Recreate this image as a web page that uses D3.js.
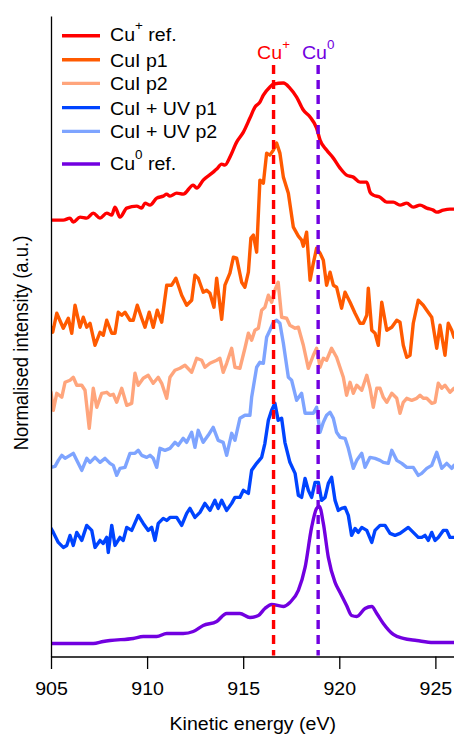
<!DOCTYPE html>
<html><head><meta charset="utf-8">
<script src="https://cdn.jsdelivr.net/npm/d3@7"></script>
<style>body{margin:0;background:#fff}svg{display:block}text{font-family:"Liberation Sans",Arial,Helvetica,sans-serif;fill:#000}</style>
</head><body><svg id="c" width="454" height="735"></svg>
<script>
// ---------- data (energy in eV, normalised intensity in a.u., stacked offsets included) ----------
const xTicks = [905, 910, 915, 920, 925];
const xLabel = "Kinetic energy (eV)";
const yLabel = "Normalised intensity (a.u.)";

const cuPlusRef = [[905.0,4.36],[905.64,4.36],[905.99,4.38],[906.16,4.34],[906.51,4.39],[906.86,4.38],[907.2,4.43],[907.55,4.38],[907.9,4.43],[908.16,4.41],[908.33,4.49],[908.59,4.39],[908.94,4.48],[909.46,4.5],[909.72,4.48],[909.89,4.53],[910.15,4.51],[910.5,4.58],[910.84,4.6],[911.02,4.62],[911.19,4.6],[911.54,4.63],[911.88,4.62],[912.4,4.71],[912.58,4.68],[912.92,4.76],[913.44,4.84],[913.62,4.87],[913.88,4.92],[914.05,4.91],[914.31,4.99],[914.66,5.14],[915.01,5.24],[915.35,5.38],[915.61,5.49],[915.87,5.54],[916.05,5.61],[916.39,5.69],[916.57,5.72],[917.09,5.73],[917.43,5.68],[917.78,5.59],[918.13,5.46],[918.48,5.39],[918.82,5.28],[919.0,5.16],[919.34,5.06],[919.69,4.98],[920.04,4.88],[920.38,4.81],[920.73,4.79],[921.08,4.74],[921.43,4.74],[921.6,4.64],[921.77,4.61],[922.12,4.59],[922.47,4.54],[922.81,4.54],[923.16,4.51],[923.51,4.53],[923.85,4.49],[924.2,4.51],[924.55,4.48],[924.89,4.46],[925.07,4.44],[925.41,4.46],[925.76,4.47],[925.97,4.47]];

const cuiP1 = [[905.0,3.29],[905.09,3.24],[905.3,3.43],[905.64,3.28],[905.9,3.38],[906.08,3.23],[906.25,3.51],[906.51,3.29],[906.68,3.39],[906.86,3.29],[907.03,3.33],[907.29,3.11],[907.55,3.24],[907.72,3.21],[907.9,3.36],[908.16,3.23],[908.33,3.23],[908.5,3.44],[908.68,3.41],[908.85,3.44],[909.11,3.36],[909.28,3.36],[909.49,3.51],[909.72,3.38],[909.89,3.29],[910.11,3.44],[910.32,3.29],[910.53,3.46],[910.76,3.34],[911.02,3.71],[911.28,3.71],[911.5,3.78],[911.8,3.61],[912.06,3.51],[912.32,3.56],[912.49,3.81],[912.66,3.78],[912.92,3.64],[913.1,3.66],[913.27,3.63],[913.48,3.49],[913.62,3.78],[913.88,3.37],[914.05,3.71],[914.31,3.83],[914.49,3.99],[914.66,3.98],[914.92,3.74],[915.09,3.69],[915.27,3.84],[915.4,4.18],[915.53,4.21],[915.7,4.04],[915.87,4.76],[916.05,4.73],[916.22,5.03],[916.39,5.01],[916.57,5.06],[916.74,5.13],[916.91,5.03],[917.09,4.79],[917.35,4.63],[917.61,4.29],[917.87,4.2],[918.04,4.16],[918.13,4.1],[918.3,4.24],[918.48,3.76],[918.65,3.93],[918.82,4.08],[919.0,4.03],[919.17,3.96],[919.34,3.71],[919.52,3.84],[919.69,3.71],[919.86,3.69],[920.12,3.48],[920.3,3.64],[920.56,3.54],[920.82,3.43],[921.08,3.33],[921.25,3.33],[921.43,3.41],[921.51,3.68],[921.69,3.26],[921.86,3.23],[922.03,3.11],[922.21,3.54],[922.47,3.26],[922.73,3.29],[922.99,3.36],[923.16,3.34],[923.33,3.11],[923.51,2.99],[923.68,3.01],[923.85,3.33],[924.11,3.56],[924.37,3.51],[924.55,3.46],[924.81,3.39],[925.07,3.08],[925.24,3.31],[925.5,3.01],[925.67,3.33],[925.85,3.26],[925.97,3.19]];

const cuiP2 = [[905.0,2.64],[905.12,2.46],[905.3,2.63],[905.56,2.59],[905.73,2.74],[905.99,2.76],[906.16,2.79],[906.34,2.71],[906.6,2.71],[906.77,2.66],[906.99,2.28],[907.2,2.68],[907.38,2.49],[907.64,2.63],[907.9,2.64],[908.07,2.61],[908.24,2.62],[908.42,2.54],[908.68,2.68],[908.94,2.51],[909.2,2.53],[909.37,2.83],[909.54,2.71],[909.8,2.78],[910.06,2.81],[910.32,2.73],[910.58,2.79],[910.76,2.73],[911.02,2.58],[911.19,2.79],[911.45,2.86],[911.71,2.88],[911.97,2.91],[912.32,2.84],[912.58,2.98],[912.84,2.96],[913.01,2.89],[913.27,2.93],[913.62,2.96],[913.79,2.98],[913.96,2.84],[914.14,2.93],[914.4,3.08],[914.57,2.89],[914.83,2.88],[915.09,3.08],[915.27,3.23],[915.44,3.16],[915.61,3.26],[915.79,3.28],[915.96,3.46],[916.13,3.49],[916.31,3.61],[916.48,3.54],[916.65,3.66],[916.82,3.74],[917.0,3.39],[917.26,3.38],[917.43,3.31],[917.7,3.28],[917.87,3.29],[918.13,3.11],[918.39,2.88],[918.65,3.01],[918.82,3.08],[919.0,2.89],[919.17,2.98],[919.34,2.96],[919.6,3.08],[919.86,2.99],[920.21,2.79],[920.38,2.61],[920.56,2.74],[920.73,2.63],[920.91,2.71],[921.17,2.66],[921.43,2.81],[921.6,2.68],[921.77,2.49],[921.95,2.68],[922.12,2.68],[922.29,2.59],[922.47,2.54],[922.73,2.63],[922.99,2.58],[923.16,2.43],[923.33,2.54],[923.51,2.58],[923.77,2.56],[924.03,2.58],[924.2,2.61],[924.37,2.58],[924.55,2.58],[924.81,2.53],[924.98,2.54],[925.15,2.73],[925.33,2.68],[925.5,2.71],[925.76,2.64],[925.97,2.68]];

const cuiUvP1 = [[905.0,1.28],[905.12,1.24],[905.38,1.14],[905.64,1.09],[905.82,1.11],[905.99,1.21],[906.16,1.11],[906.34,1.24],[906.6,1.16],[906.86,1.31],[907.12,1.26],[907.29,1.09],[907.55,1.16],[907.72,1.13],[907.9,1.19],[907.98,1.04],[908.16,1.31],[908.33,1.11],[908.59,1.19],[908.76,1.16],[908.94,1.29],[909.2,1.26],[909.54,1.41],[909.8,1.33],[910.06,1.26],[910.24,1.29],[910.41,1.16],[910.58,1.33],[910.84,1.38],[911.02,1.36],[911.19,1.39],[911.54,1.39],[911.8,1.31],[912.06,1.43],[912.23,1.48],[912.49,1.39],[912.75,1.44],[913.01,1.53],[913.27,1.46],[913.53,1.56],[913.7,1.48],[913.88,1.56],[914.14,1.46],[914.4,1.53],[914.57,1.59],[914.83,1.59],[915.01,1.66],[915.27,1.63],[915.44,1.86],[915.7,1.93],[915.96,1.99],[916.13,2.13],[916.31,2.36],[916.48,2.46],[916.65,2.53],[916.82,2.36],[917.0,2.38],[917.17,2.14],[917.43,1.94],[917.7,1.83],[917.87,1.61],[918.04,1.59],[918.22,1.78],[918.39,1.66],[918.56,1.59],[918.74,1.74],[918.91,1.74],[919.08,1.56],[919.26,1.59],[919.43,1.73],[919.6,1.79],[919.78,1.56],[919.95,1.46],[920.12,1.48],[920.3,1.49],[920.47,1.41],[920.64,1.21],[920.82,1.28],[920.99,1.24],[921.17,1.29],[921.43,1.26],[921.69,1.14],[921.86,1.26],[922.12,1.31],[922.38,1.31],[922.64,1.23],[922.9,1.21],[923.16,1.23],[923.59,1.29],[923.85,1.24],[924.11,1.19],[924.29,1.19],[924.46,1.21],[924.63,1.16],[924.81,1.24],[924.98,1.16],[925.15,1.19],[925.41,1.26],[925.59,1.26],[925.76,1.19],[925.97,1.19]];

const cuiUvP2 = [[905.0,1.89],[905.21,1.9],[905.38,1.96],[905.56,2.01],[905.73,1.98],[905.99,2.01],[906.16,2.03],[906.34,1.96],[906.6,1.86],[906.86,1.98],[907.03,1.94],[907.29,1.99],[907.55,1.94],[907.81,1.98],[908.07,1.93],[908.24,1.91],[908.42,1.81],[908.59,1.88],[908.85,1.89],[909.11,2.03],[909.37,2.03],[909.54,2.06],[909.72,2.01],[909.98,1.99],[910.15,2.01],[910.32,1.98],[910.5,1.89],[910.67,2.08],[910.93,2.06],[911.19,2.08],[911.45,2.14],[911.62,2.11],[911.88,2.18],[912.06,2.14],[912.32,2.24],[912.49,2.09],[912.66,2.26],[912.92,2.14],[913.18,2.21],[913.44,2.29],[913.7,2.16],[913.96,2.14],[914.14,2.01],[914.4,2.23],[914.57,2.16],[914.83,2.38],[915.09,2.41],[915.35,2.41],[915.44,2.59],[915.7,2.89],[915.87,2.94],[916.05,2.93],[916.22,3.19],[916.39,3.26],[916.57,3.34],[916.74,3.36],[916.91,3.33],[917.09,3.13],[917.35,2.79],[917.52,2.76],[917.78,2.56],[918.04,2.63],[918.22,2.43],[918.39,2.43],[918.65,2.43],[918.82,2.49],[919.0,2.24],[919.17,2.34],[919.34,2.41],[919.52,2.44],[919.69,2.38],[919.86,2.24],[920.04,2.19],[920.3,2.18],[920.47,2.08],[920.73,1.88],[920.91,1.96],[921.17,2.03],[921.34,1.89],[921.6,1.99],[921.86,1.98],[922.12,1.96],[922.29,1.94],[922.55,1.93],[922.73,2.06],[922.99,1.96],[923.25,1.93],[923.51,1.89],[923.85,1.89],[924.11,1.81],[924.29,1.83],[924.55,1.88],[924.81,1.91],[925.07,2.04],[925.33,1.88],[925.59,1.93],[925.85,1.88],[925.97,1.91]];

const cu0Ref = [[905.0,0.13],[907.2,0.13],[907.72,0.15],[908.07,0.16],[909.28,0.18],[909.8,0.2],[910.5,0.2],[911.02,0.23],[911.88,0.23],[912.4,0.25],[912.92,0.31],[913.62,0.35],[914.14,0.43],[914.83,0.43],[915.35,0.39],[915.79,0.41],[916.13,0.48],[916.48,0.52],[917.09,0.5],[917.43,0.54],[917.87,0.66],[918.22,0.89],[918.56,1.29],[918.82,1.48],[918.96,1.5],[919.17,1.33],[919.43,0.99],[919.78,0.74],[920.04,0.64],[920.38,0.51],[920.64,0.41],[920.91,0.4],[921.34,0.48],[921.69,0.5],[921.95,0.43],[922.29,0.33],[922.81,0.22],[923.33,0.18],[924.03,0.16],[924.89,0.14],[925.97,0.14]];

const seriesNames = ["Cu|+| ref.", "CuI p1", "CuI p2", "CuI + UV p1", "CuI + UV p2", "Cu|0| ref."];
const seriesColors = ["#ff0000", "#ff5a00", "#ffa57c", "#0044ff", "#7ea4ff", "#7200e0"];
const seriesData = [cuPlusRef, cuiP1, cuiP2, cuiUvP1, cuiUvP2, cu0Ref];
const seriesSmooth = [true, false, false, false, false, true];

const refEnergies = [916.58, 918.9];
const refMain = ["Cu", "Cu"];
const refSup = ["+", "0"];
const refColors = ["#ff0000", "#7200e0"];

// ---------- drawing ----------
(function () {
const svg = d3.select("#c");
const W = 454;
const mLeft = 51, mRight = 454.6, mTop = 16, mBottom = 656.5;
const SX = 1.12; // horizontal text stretch of the reference
const FS = 17.5;
const LW = 3.4;

const x = d3.scaleLinear().domain([905, 926]).range([mLeft, mRight]);
const y = d3.scaleLinear().domain([0, 6.4]).range([mBottom, mTop]);

const plot = svg.append("g");
svg.append("clipPath").attr("id", "clp").append("rect")
  .attr("x", mLeft).attr("y", 0).attr("width", W - mLeft).attr("height", mBottom);

const lineL = d3.line().x(d => x(d[0])).y(d => y(d[1]));
const lineS = d3.line().x(d => x(d[0])).y(d => y(d[1])).curve(d3.curveMonotoneX);

seriesData.forEach((s, i) => {
  plot.append("path").datum(s)
    .attr("clip-path", "url(#clp)")
    .attr("d", seriesSmooth[i] ? lineS : lineL)
    .attr("fill", "none").attr("stroke", seriesColors[i])
    .attr("stroke-width", LW).attr("stroke-linejoin", "round").attr("stroke-linecap", "round");
});

refEnergies.forEach((e, i) => {
  plot.append("line")
    .attr("x1", x(e)).attr("x2", x(e)).attr("y1", 65).attr("y2", mBottom - 1)
    .attr("stroke", refColors[i]).attr("stroke-width", LW).attr("stroke-dasharray", "9,6");
  const t = svg.append("text").attr("text-anchor", "middle")
    .attr("transform", `translate(${x(e)},58.5) scale(${SX},1)`)
    .style("font-size", FS + "px").style("fill", refColors[i]);
  t.append("tspan").text(refMain[i]);
  t.append("tspan").attr("dy", -10).style("font-size", "12px").text(refSup[i]);
});

const xAxis = d3.axisBottom(x).tickValues(xTicks).tickSize(12.5).tickSizeOuter(0).tickFormat(d3.format("d"));
const gx = svg.append("g").attr("transform", `translate(0,${mBottom})`).call(xAxis);
gx.select(".domain").attr("stroke", "#000").attr("stroke-width", 1.3);
gx.selectAll(".tick line").attr("stroke", "#000").attr("stroke-width", 1.3);
gx.selectAll(".tick text").attr("y", null).attr("dy", null)
  .attr("transform", `translate(0,38.5) scale(${SX},1)`)
  .style("font-size", FS + "px").style("font-family", '"Liberation Sans",Arial,sans-serif').attr("fill", "#000");

const yAxis = d3.axisLeft(y).tickValues([]).tickSizeOuter(0);
const gy = svg.append("g").attr("transform", `translate(${mLeft},0)`).call(yAxis);
gy.select(".domain").attr("stroke", "#000").attr("stroke-width", 1.3);

svg.append("text").attr("text-anchor", "middle")
  .attr("transform", `translate(${(mLeft + mRight) / 2},729.5) scale(${SX},1)`)
  .style("font-size", FS + "px").text(xLabel);

svg.append("text").attr("text-anchor", "middle")
  .attr("transform", `translate(27.5,343) scale(${SX},1) rotate(-90)`)
  .style("font-size", "18.5px").text(yLabel);

const legendRows = [35.7, 59.8, 83.4, 107.6, 131.4, 164];
const lg = svg.append("g");
seriesNames.forEach((n, i) => {
  const ry = legendRows[i];
  lg.append("line").attr("x1", 62).attr("x2", 100).attr("y1", ry).attr("y2", ry)
    .attr("stroke", seriesColors[i]).attr("stroke-width", LW);
  const parts = n.split("|");
  const t = lg.append("text").attr("transform", `translate(110,${ry + (parts.length > 1 ? 5.5 : 7)}) scale(${SX},1)`)
    .style("font-size", FS + "px");
  t.append("tspan").text(parts[0]);
  if (parts.length > 1) {
    t.append("tspan").attr("dy", -11).style("font-size", "12px").text(parts[1]);
    t.append("tspan").attr("dy", 11).text(parts[2]);
  }
});
})();
</script></body></html>
